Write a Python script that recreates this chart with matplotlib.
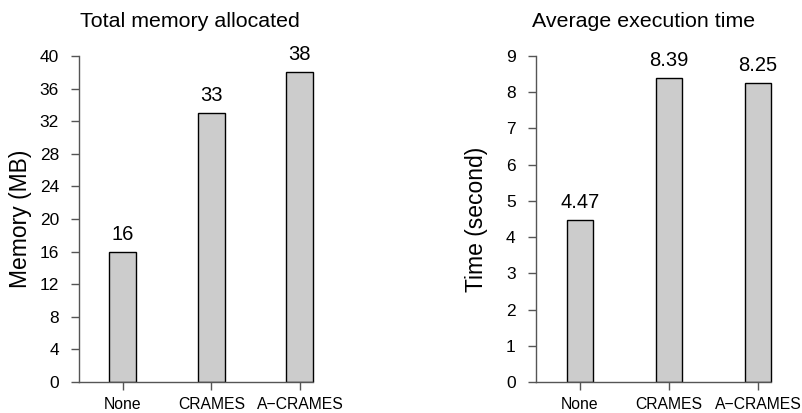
import matplotlib
matplotlib.use('Agg')
import matplotlib.pyplot as plt

plt.rcParams['font.family'] = ['Liberation Sans', 'DejaVu Sans']

methods = ['None', 'CRAMES', 'A\u2212CRAMES']
memory_mb = [16, 33, 38]
memory_labels = ['16', '33', '38']
exec_time = [4.47, 8.39, 8.25]
time_labels = ['4.47', '8.39', '8.25']

W, H = 803, 413
fig = plt.figure(figsize=(W / 100, H / 100), dpi=100)


def fx(px):
    return px / W


def fy(py):
    return 1 - py / H


axis_col = '#555555'


def panel(left_px, right_px, xlim, values, labels, yticks, ymax, width,
          title, title_x, ylabel, ylabel_x):
    ax = fig.add_axes([fx(left_px), fy(382), fx(right_px - left_px), (382 - 56) / H])
    x = list(range(len(values)))
    ax.bar(x, values, width=width, color='#cccccc', edgecolor='black',
           linewidth=1.0, zorder=2)
    for xi, v, lab in zip(x, values, labels):
        ax.annotate(lab, (xi, v), xytext=(0, 8.5), textcoords='offset points',
                    ha='center', va='baseline', fontsize=14.5, annotation_clip=False)
    ax.set_xlim(*xlim)
    ax.set_ylim(0, ymax)
    ax.set_yticks(yticks)
    ax.set_xticks(x)
    ax.set_xticklabels(methods, fontsize=11.3)
    ax.tick_params(axis='y', labelsize=12.5, length=6, pad=8.4, color=axis_col,
                   width=1)
    ax.tick_params(axis='x', length=6, pad=5, color=axis_col, width=1)
    for s in ['top', 'right']:
        ax.spines[s].set_visible(False)
    for s in ['left', 'bottom']:
        ax.spines[s].set_color(axis_col)
        ax.spines[s].set_linewidth(1)
    ax.spines['bottom'].set_bounds(xlim[0], x[-1] + width / 2)
    ax.patch.set_visible(False)
    fig.text(fx(title_x), fy(27), title, ha='center', va='baseline', fontsize=15.4)
    fig.text(fx(ylabel_x), fy(219), ylabel, ha='center', va='center',
             rotation=90, fontsize=16.5)
    return ax


panel(79, 330, (-0.497, 2.34), memory_mb, memory_labels,
      list(range(0, 41, 4)), 40, 0.305,
      'Total memory allocated', 190, 'Memory (MB)', 21)
panel(535.7, 790, (-0.498, 2.36), exec_time, time_labels,
      list(range(0, 10)), 9, 0.292,
      'Average execution time', 644, 'Time (second)', 477)

fig.savefig('out.png', dpi=100)
